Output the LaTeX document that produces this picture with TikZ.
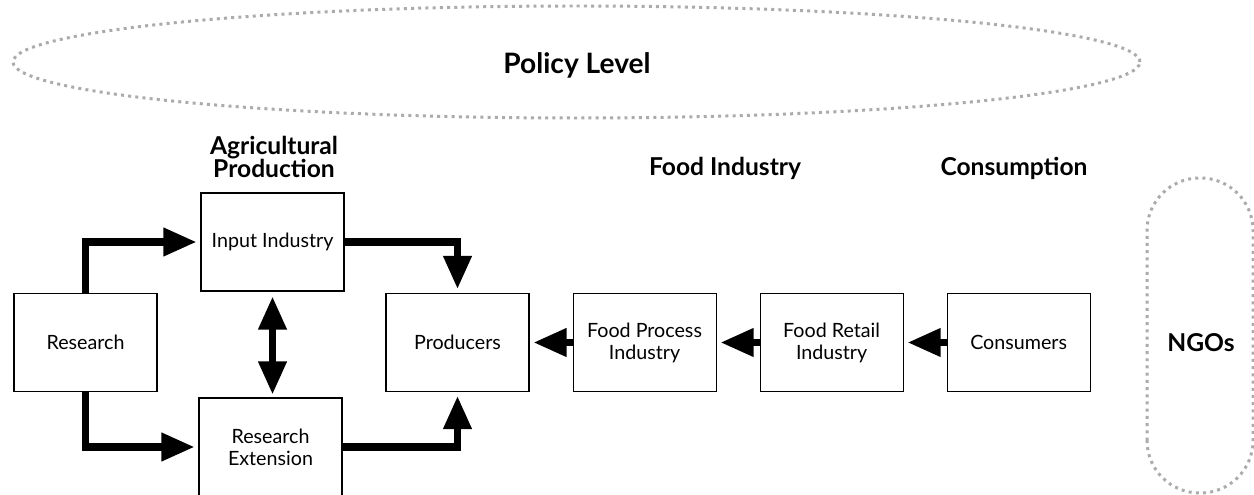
\documentclass[tikz,border=0pt]{standalone}
\usepackage{fontspec}
\setmainfont{Lato}
\usetikzlibrary{arrows.meta,positioning}
\tikzset{
  box/.style={draw, line width=0.6pt, minimum width=2.86cm, minimum height=1.96cm,
    align=center, font=\fontsize{11.2}{12.5}\selectfont},
  head/.style={align=center, font=\fontsize{14}{13}\selectfont\bfseries},
  flow/.style={line width=4pt, -{Triangle[length=0.66cm,width=0.54cm]},
    shorten >=0.08cm},
  dotline/.style={draw=black!33, line width=1.7pt, dash pattern=on 1.7pt off 2.4pt}
}
\begin{document}
\begin{tikzpicture}
\useasboundingbox (0,0) rectangle (25.08,9.9);
% policy level and NGOs
\draw[dotline] (11.53,8.66) ellipse [x radius=11.27cm, y radius=1.12cm];
\node[head, font=\fontsize{16}{16}\selectfont\bfseries] (pol) at (11.54,8.6) {Policy Level};
\draw[dotline, rounded corners=1.05cm] (22.94,0.04) rectangle (25.06,6.34);
\node[head] (ngo) at (24.02,3.05) {NGOs};
% column headings
\node[head] (agr) at (5.48,6.76) {Agricultural\\Production};
\node[head] (fin) at (14.5,6.54) {Food Industry};
\node[head] (con) at (20.28,6.54) {Consumption};
% boxes
\node[box] (res) at (1.71,3.05) {Research};
\node[box] (inp) at (5.45,5.06) {Input Industry};
\node[box] (ext) at (5.41,0.96) {Research\\Extension};
\node[box] (prod) at (9.15,3.05) {Producers};
\node[box, right=0.86cm of prod] (proc) {Food Process\\Industry};
\node[box, right=0.86cm of proc] (ret) {Food Retail\\Industry};
\node[box, right=0.86cm of ret] (cons) {Consumers};
% flows
\draw[flow] (res.north) |- (inp.west);
\draw[flow] (res.south) |- (ext.west);
\draw[flow, {Triangle[length=0.66cm,width=0.54cm]}-{Triangle[length=0.66cm,width=0.54cm]},
  shorten <=0.1cm, shorten >=0.06cm] (inp.south) -- (inp.south |- ext.north);
\draw[flow] (inp.east) -| (prod.north);
\draw[flow] (ext.east) -| (prod.south);
\draw[flow] (proc.west) -- (prod.east);
\draw[flow] (ret.west) -- (proc.east);
\draw[flow] (cons.west) -- (ret.east);
\end{tikzpicture}
\end{document}
